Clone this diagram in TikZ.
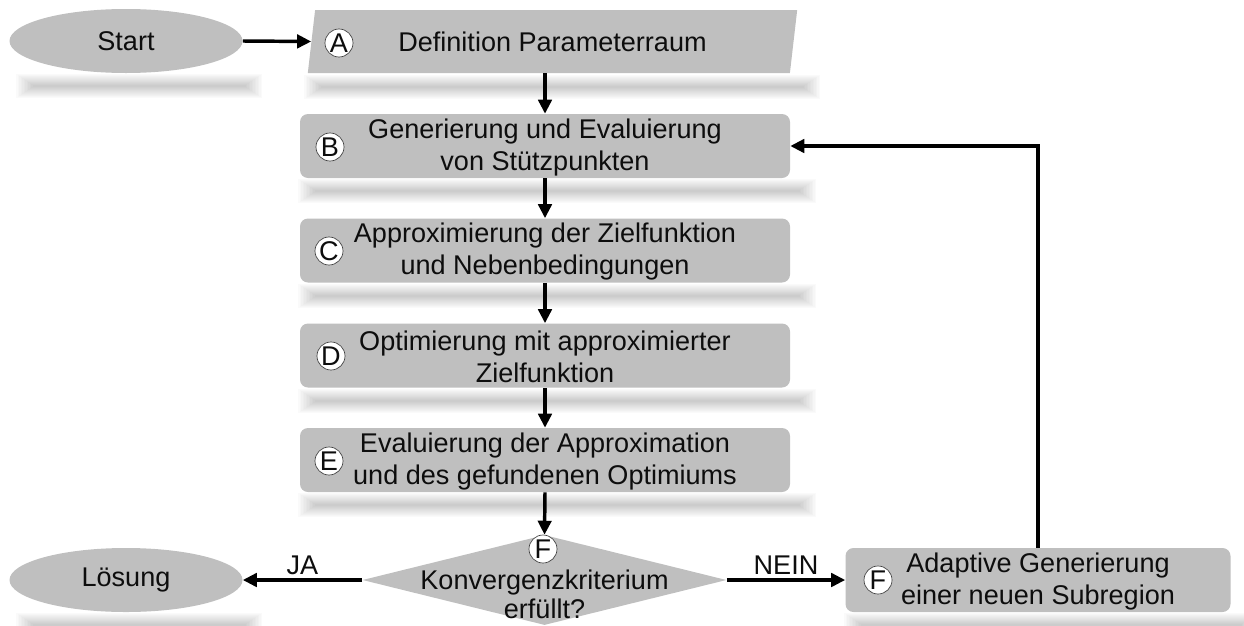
\documentclass[tikz,border=0pt]{standalone}
\usepackage{fontspec}
\setmainfont{Liberation Sans}
\usetikzlibrary{shapes.geometric,arrows.meta}
\definecolor{boxgray}{HTML}{BFBFBF}
\definecolor{txt}{HTML}{0D0D0D}
\newcommand\softshadow[3]{%
 \foreach \i in {0,...,11}{%
   \pgfmathsetmacro\shd{2+18*\i/11}%
   \fill[black!\shd] ({#1+1.5*\i},{#3-12+\i}) rectangle ({#2-1.5*\i},{#3+12-\i});}}
\tikzset{
 base/.style={fill=boxgray, draw=none, text=txt, font=\fontsize{20.3}{24}\selectfont, align=center, inner sep=0pt},
 procbox/.style={base, rectangle, rounded corners=6pt, minimum width=367.5pt, minimum height=48pt},
 term/.style={base, ellipse, minimum width=174.75pt, minimum height=48pt},
 iobox/.style={base, trapezium, trapezium left angle=76.6, trapezium right angle=103.4, trapezium stretches=true, minimum width=368.25pt, minimum height=47.25pt},
 decision/.style={base, diamond, minimum width=273pt, minimum height=67.5pt},
 letter/.style={circle, fill=white, draw=black!75, line width=0.5pt, minimum size=21pt, inner sep=0pt, text=txt, font=\fontsize{20.3}{20}\selectfont},
 flow/.style={line width=2.6pt, -{Triangle[length=10.5pt,width=10pt]}},
 lbl/.style={text=txt, font=\fontsize{20.3}{20}\selectfont, inner sep=2pt}
}
\begin{document}
\begin{tikzpicture}[x=0.75pt,y=-0.75pt]
\useasboundingbox (0,0) rectangle (1244,625);
% shadows (drawn first, behind the shapes)
\softshadow{16}{262}{86}
\softshadow{304}{820}{87}
\softshadow{298}{816}{191}
\softshadow{298}{816}{296}
\softshadow{298}{816}{401}
\softshadow{298}{816}{505}
\softshadow{16}{262}{625}
\softshadow{844}{1258}{625}
% nodes
\node[term] (S) at (126,41) {Start};
\node[iobox] (A) at (552.5,41.5) {Definition Parameterraum};
\node[procbox] (B) at (545,146) {\strut Generierung und Evaluierung\\von Stützpunkten};
\node[procbox] (C) at (545,250.5) {\strut Approximierung der Zielfunktion\\und Nebenbedingungen};
\node[procbox] (D) at (545,355.5) {\strut Optimierung mit approximierter\\Zielfunktion};
\node[procbox] (E) at (545,460) {\strut Evaluierung der Approximation\\und des gefundenen Optimiums};
\node[decision] (K) at (544.5,580) {};
\node[base, fill=none, font=\fontsize{20.3}{22}\selectfont] (Kt) at (544.5,594) {Konvergenzkriterium\\erfüllt?};
\node[term] (L) at (126,580) {Lösung};
\node[procbox, minimum width=288.75pt] (G) at (1038,580) {\strut Adaptive Generierung\\einer neuen Subregion};
% letters
\node[letter] (la) at (339,43) {A};
\node[letter] (lb) at (330,147) {B};
\node[letter] (lc) at (329,251) {C};
\node[letter] (ld) at (331,356) {D};
\node[letter] (le) at (329,461) {E};
\node[letter] (lf) at (543,549) {F};
\node[letter] (lg) at (878,580) {F};
% connectors
\draw[flow] (S.east) -- (A.west);
\draw[flow] (A.south -| B.north) -- (B.north);
\draw[flow] (B.south) -- (C.north);
\draw[flow] (C.south) -- (D.north);
\draw[flow] (D.south) -- (E.north);
\draw[flow] (E.south) -- (K.north);
\draw[flow] (K.west) -- node[lbl, above=1pt] {JA} (L.east);
\draw[flow] (K.east) -- node[lbl, above=1pt] {NEIN} (G.west);
\draw[flow] (G.north) |- (B.east);
\end{tikzpicture}
\end{document}
